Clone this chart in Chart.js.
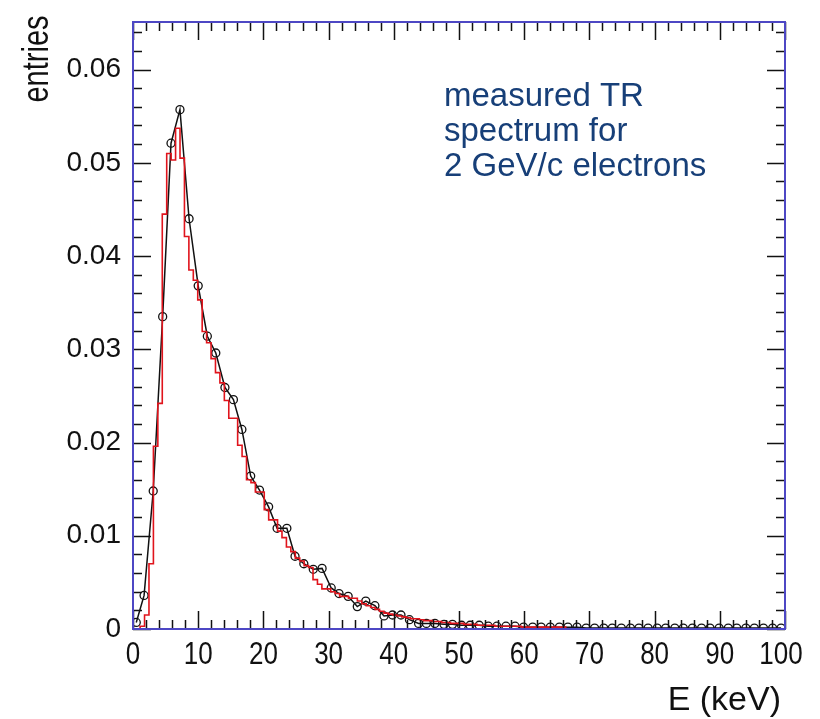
<!DOCTYPE html>
<html>
<head>
<meta charset="utf-8" />
<title>TR spectrum</title>
<script src="https://cdn.jsdelivr.net/npm/chart.js@4.4.1/dist/chart.umd.min.js"></script>
<style>
  html, body { margin: 0; padding: 0; background: #fff; }
  canvas { display: block; }
</style>
</head>
<body>
<canvas id="spec" width="820" height="719"></canvas>
<script>
// black: measured points (keV, entries)
const blackX = [0.5, 1.7, 3.1, 4.55, 5.83, 7.2, 8.6, 10.0, 11.4, 12.7, 14.1, 15.4, 16.7, 18.05, 19.4, 20.8,
  22.1, 23.6, 24.85, 26.2, 27.65, 29.0, 30.4, 31.6, 33.0, 34.4, 35.7, 37.1, 38.5, 39.8, 41.1, 42.4, 43.8,
  45.0, 46.3, 47.7, 49.0, 50.4, 51.7, 53.1, 54.5, 55.8, 57.2, 58.6, 59.9, 61.3, 62.6, 64.0, 65.4, 66.7,
  68.1, 69.5, 70.8, 72.2, 73.5, 74.9, 76.3, 77.6, 79.0, 80.4, 81.7, 83.1, 84.4, 85.8, 87.2, 88.5, 89.9,
  91.3, 92.6, 94.0, 95.3, 96.7, 98.1, 99.4];
const blackY = [0.0007, 0.0036, 0.0148, 0.0335, 0.0521, 0.0557, 0.0440, 0.0368, 0.0314, 0.0296, 0.0259,
  0.0246, 0.0214, 0.0164, 0.0149, 0.0131, 0.0108, 0.0108, 0.0078, 0.0070, 0.0064, 0.0065, 0.0044, 0.0038,
  0.0035, 0.0024, 0.0030, 0.0025, 0.0014, 0.0015, 0.0015, 0.0010, 0.0006, 0.0006, 0.0006,
  0.0005, 0.0005, 0.0004, 0.0004, 0.0004, 0.0003, 0.0003, 0.0003, 0.0003, 0.0002, 0.0002, 0.0002, 0.0002,
  0.0002, 0.0002, 0.0002,
  0.0001, 0.0001, 0.0001, 0.0001, 0.0001, 0.0001, 0.0001, 0.0001, 0.0001, 0.0001, 0.0001, 0.0001, 0.0001,
  0.0001, 0.0001, 0.0001, 0.0001, 0.0001, 0.0001, 0.0001, 0.0001, 0.0001, 0.0001];

// red: histogram bins (first bin edge + bin width, value per bin)
const redStart = 0.41;
const redWidth = 0.68;
const redY = [0, 0, 0.0003, 0.0015, 0.0070, 0.0196, 0.0242, 0.0445, 0.0510, 0.0503, 0.0537, 0.0505, 0.0421,
  0.0385, 0.0374, 0.0353, 0.0319, 0.0307, 0.0290, 0.0275, 0.0264, 0.0245, 0.0226, 0.0226, 0.0197, 0.0185,
  0.0160, 0.0157, 0.0147, 0.0147, 0.0128, 0.0117, 0.0117, 0.0105, 0.0098, 0.0088, 0.0083, 0.0076, 0.0073,
  0.0068, 0.0066, 0.0053, 0.0048, 0.0043, 0.0043, 0.0040, 0.0038, 0.0035, 0.0035, 0.0033, 0.0033, 0.0030,
  0.0027, 0.0025, 0.0023, 0.0021, 0.0019, 0.0017, 0.0016, 0.0015, 0.0014, 0.0013, 0.0012, 0.0011, 0.0011,
  0.0010, 0.0009, 0.0009, 0.0008, 0.0008, 0.0007, 0.0007, 0.0006, 0.0006, 0.0006, 0.0005, 0.0005, 0.0005,
  0.0004, 0.0004, 0.0004, 0.0004, 0.0003, 0.0003, 0.0003, 0.0003, 0.0003, 0.0003, 0.0002, 0.0002, 0.0002,
  0.0002, 0.0002, 0.0002, 0.0002, 0.0002, 0.0002, 0.0002, 0];

const xTicks = [0, 10, 20, 30, 40, 50, 60, 70, 80, 90, 100];
const yTicks = [0, 0.01, 0.02, 0.03, 0.04, 0.05, 0.06];
const annotation = ['measured TR', 'spectrum for', '2 GeV/c electrons'];

const blackData = blackX.map((x, i) => ({ x: x, y: blackY[i] }));
const redData = redY.map((v, i) => ({ x: redStart + i * redWidth, y: v }));
redData.push({ x: redStart + redY.length * redWidth, y: 0 });

const FONT = "'Liberation Sans', Arial, sans-serif";

// frame, inward ticks on all sides, x labels (tall), titles and the text box
const framePlugin = {
  id: 'frame',
  afterDraw(chart) {
    const ctx = chart.ctx;
    const a = chart.chartArea;
    const xs = chart.scales.x, ys = chart.scales.y;
    ctx.save();
    ctx.strokeStyle = '#111';
    ctx.lineWidth = 1.5;
    ctx.beginPath();
    for (let v = 0; v <= 100; v += 2) {
      const px = Math.round(xs.getPixelForValue(v)) + 0.5;
      const len = v % 10 === 0 ? 18 : 9;
      ctx.moveTo(px, a.bottom); ctx.lineTo(px, a.bottom - len);
      ctx.moveTo(px, a.top); ctx.lineTo(px, a.top + len);
    }
    for (let k = 0; k <= 32; k++) {
      const v = k * 0.002;
      const py = Math.round(ys.getPixelForValue(v)) + 0.5;
      const len = k % 5 === 0 ? 18 : 9;
      ctx.moveTo(a.left, py); ctx.lineTo(a.left + len, py);
      ctx.moveTo(a.right, py); ctx.lineTo(a.right - len, py);
    }
    ctx.stroke();

    ctx.strokeStyle = '#4d47c4';
    ctx.lineWidth = 2;
    ctx.strokeRect(a.left, a.top, a.right - a.left, a.bottom - a.top);

    // x tick labels, drawn a bit taller than wide like the original
    ctx.fillStyle = '#111';
    ctx.font = '26px ' + FONT;
    ctx.textAlign = 'center';
    ctx.textBaseline = 'top';
    xTicks.forEach(v => {
      ctx.save();
      ctx.translate(xs.getPixelForValue(v) - (v === 100 ? 4 : 0), a.bottom + 11);
      ctx.scale(1, 1.2);
      ctx.fillText(String(v), 0, 0);
      ctx.restore();
    });

    ctx.font = '29px ' + FONT;
    ctx.textBaseline = 'middle';
    ctx.textAlign = 'center';
    ctx.translate(38, 59);
    ctx.rotate(-Math.PI / 2);
    ctx.scale(1, 1.25);
    ctx.fillText('entries', 0, 0);
    ctx.setTransform(1, 0, 0, 1, 0, 0);

    ctx.font = '34px ' + FONT;
    ctx.textAlign = 'right';
    ctx.textBaseline = 'alphabetic';
    ctx.fillText('E (keV)', 781, 710);

    ctx.fillStyle = '#173f78';
    ctx.font = '33px ' + FONT;
    ctx.textAlign = 'left';
    annotation.forEach((t, i) => ctx.fillText(t, 444, 106 + i * 35));
    ctx.restore();
  }
};

new Chart(document.getElementById('spec'), {
  type: 'line',
  data: {
    datasets: [
      {
        label: 'simulation',
        data: redData,
        stepped: 'after',
        borderColor: '#e0141c',
        borderWidth: 1.6,
        pointRadius: 0,
        fill: false
      },
      {
        label: 'measured',
        data: blackData,
        borderColor: '#111',
        borderWidth: 1.5,
        tension: 0,
        pointRadius: 4,
        pointStyle: 'circle',
        pointBorderColor: '#111',
        pointBorderWidth: 1.3,
        pointBackgroundColor: 'rgba(0,0,0,0)',
        fill: false
      }
    ]
  },
  options: {
    responsive: false,
    animation: false,
    layout: { padding: { top: 22, right: 35, left: 0, bottom: 0 } },
    plugins: { legend: { display: false }, tooltip: { enabled: false } },
    scales: {
      x: {
        type: 'linear',
        min: 0,
        max: 100,
        afterBuildTicks: s => { s.ticks = xTicks.map(v => ({ value: v })); },
        afterFit: s => { s.height = 90; s.paddingLeft = 0; s.paddingRight = 0; },
        grid: { display: false, drawTicks: false },
        border: { display: false },
        ticks: { display: false }
      },
      y: {
        type: 'linear',
        min: 0,
        max: 0.0651,
        afterBuildTicks: s => { s.ticks = yTicks.map(v => ({ value: v })); },
        afterFit: s => { s.width = 133; s.paddingTop = 0; s.paddingBottom = 0; },
        grid: { display: false, drawTicks: false },
        border: { display: false },
        ticks: {
          padding: 12,
          color: '#111',
          font: { family: FONT, size: 28 },
          callback: v => v === 0 ? '0' : v.toFixed(2)
        }
      }
    }
  },
  plugins: [framePlugin]
});
</script>
</body>
</html>
